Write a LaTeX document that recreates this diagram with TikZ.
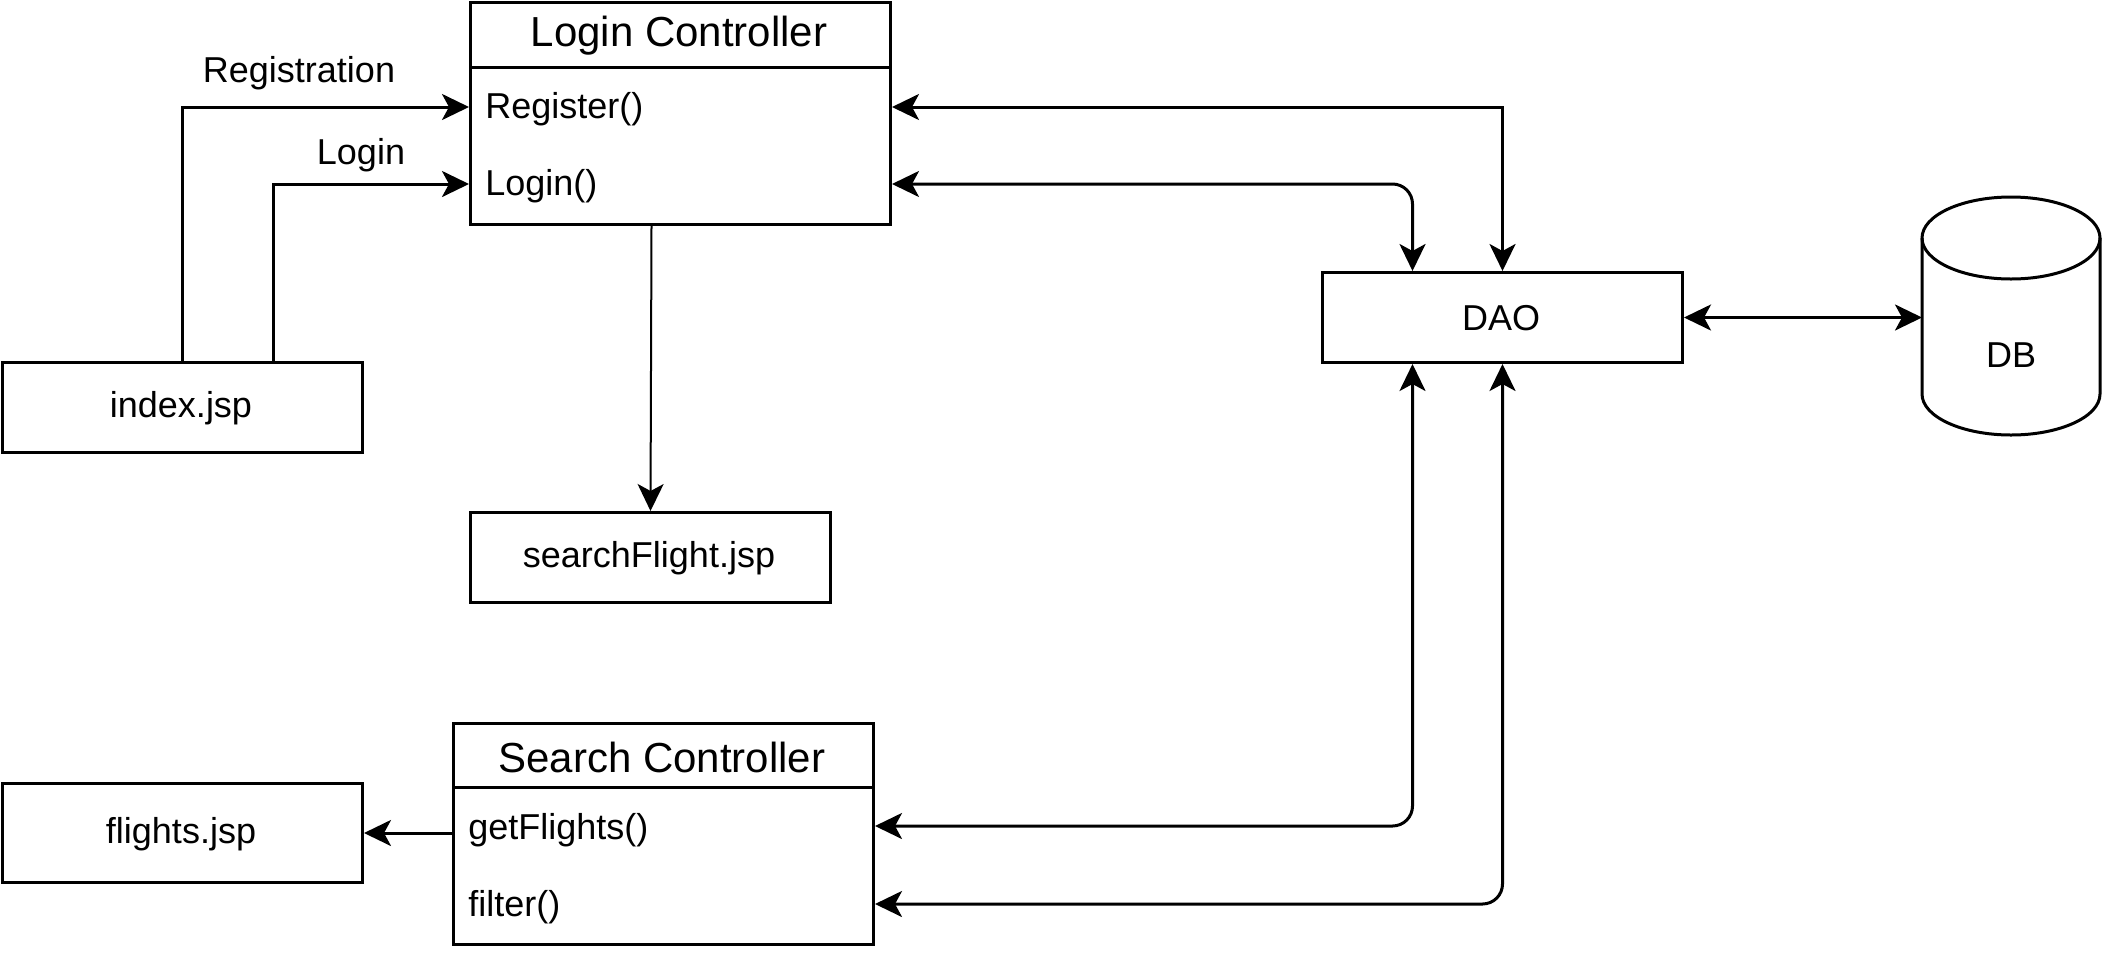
\documentclass[tikz,border=0pt]{standalone}
\usepackage{fontspec}
\setmainfont{Liberation Sans}
\usetikzlibrary{arrows.meta,calc}
\begin{document}
\begin{tikzpicture}[x=0.5pt,y=-0.5pt,
  every node/.style={font=\fontsize{18pt}{21pt}\selectfont},
  box/.style={draw,line width=1.5pt,inner sep=0pt,anchor=north west},
  method/.style={anchor=west,inner sep=0pt},
  titletext/.style={font=\fontsize{21pt}{24pt}\selectfont},
  tip/.style={Stealth[length=13.5pt,width=13pt,inset=3.5pt]},
  conn/.style={line width=1.5pt,-{Stealth[length=13.5pt,width=13pt,inset=3.5pt]}},
  biconn/.style={line width=1.5pt,{Stealth[length=13.5pt,width=13pt,inset=3.5pt]}-{Stealth[length=13.5pt,width=13pt,inset=3.5pt]}},
  lbl/.style={inner sep=0pt}
]
\useasboundingbox (0,0) rectangle (2103,954);
% Login Controller
\node[box,minimum width=210pt,minimum height=111pt] (LC) at (469,1) {};
\draw[line width=1.5pt] (469,67) -- (889,67);
\node[titletext] (LCt) at (679,36) {Login Controller};
\node[method] (reg) at (485,109) {Register()};
\node[method] (login) at (485,186) {Login()};
% index.jsp
\node[box,minimum width=180pt,minimum height=45pt] (index) at (1,361) {};
\node at (181,408) (indext) {index.jsp};
% searchFlight.jsp
\node[box,minimum width=180pt,minimum height=45pt] (sf) at (469,511) {};
\node at (649,558) (sft) {searchFlight.jsp};
% DAO
\node[box,minimum width=180pt,minimum height=45pt] (DAO) at (1321,271) {};
\node at (1501,318) (DAOt) {DAO};
% DB cylinder
\draw[line width=1.5pt] (1922,238) -- (1922,394) arc[start angle=180,end angle=0,x radius=89,y radius=41] -- (2100,238);
\draw[line width=1.5pt] (2011,238) ellipse[x radius=89,y radius=41];
\node[inner sep=0pt,minimum width=89pt,minimum height=119pt,anchor=north west] (db) at (1922,197) {};
\node at (2011,355) (dbt) {DB};
% Search Controller
\node[box,minimum width=210pt,minimum height=110.5pt] (SC) at (452,722) {};
\draw[line width=1.5pt] (452,787) -- (872,787);
\node[titletext] (SCt) at (662,757) {Search Controller};
\node[method] (getf) at (468,830) {getFlights()};
\node[method] (filt) at (468,907) {filter()};
% flights.jsp
\node[box,minimum width=180pt,minimum height=49.5pt] (fl) at (1,782) {};
\node at (181,834) (flt) {flights.jsp};
% labels
\node[lbl] (lreg) at (299,73) {Registration};
\node[lbl] (llog) at (361,155) {Login};
% connectors
\draw[conn] (index.north) |- (LC.west |- 0,107);
\draw[conn] ([xshift=45.5pt]index.north) |- (LC.west |- 0,184);
\draw[conn,line width=1pt] ([xshift=-14.5pt]LC.south) -- (sf.north);
\draw[biconn] (LC.east |- 0,107) -| (DAO.north);
\draw[biconn,rounded corners=10pt] (LC.east |- 0,184) -| ([xshift=-45pt]DAO.north);
\draw[biconn,rounded corners=10pt] (SC.east |- 0,826) -| ([xshift=-45pt]DAO.south);
\draw[biconn,rounded corners=10pt] (SC.east |- 0,904) -| (DAO.south);
\draw[biconn] (DAO.east) -- (DAO.east -| db.west);
\draw[conn] (SC.west |- fl.east) -- (fl.east);
\end{tikzpicture}
\end{document}
